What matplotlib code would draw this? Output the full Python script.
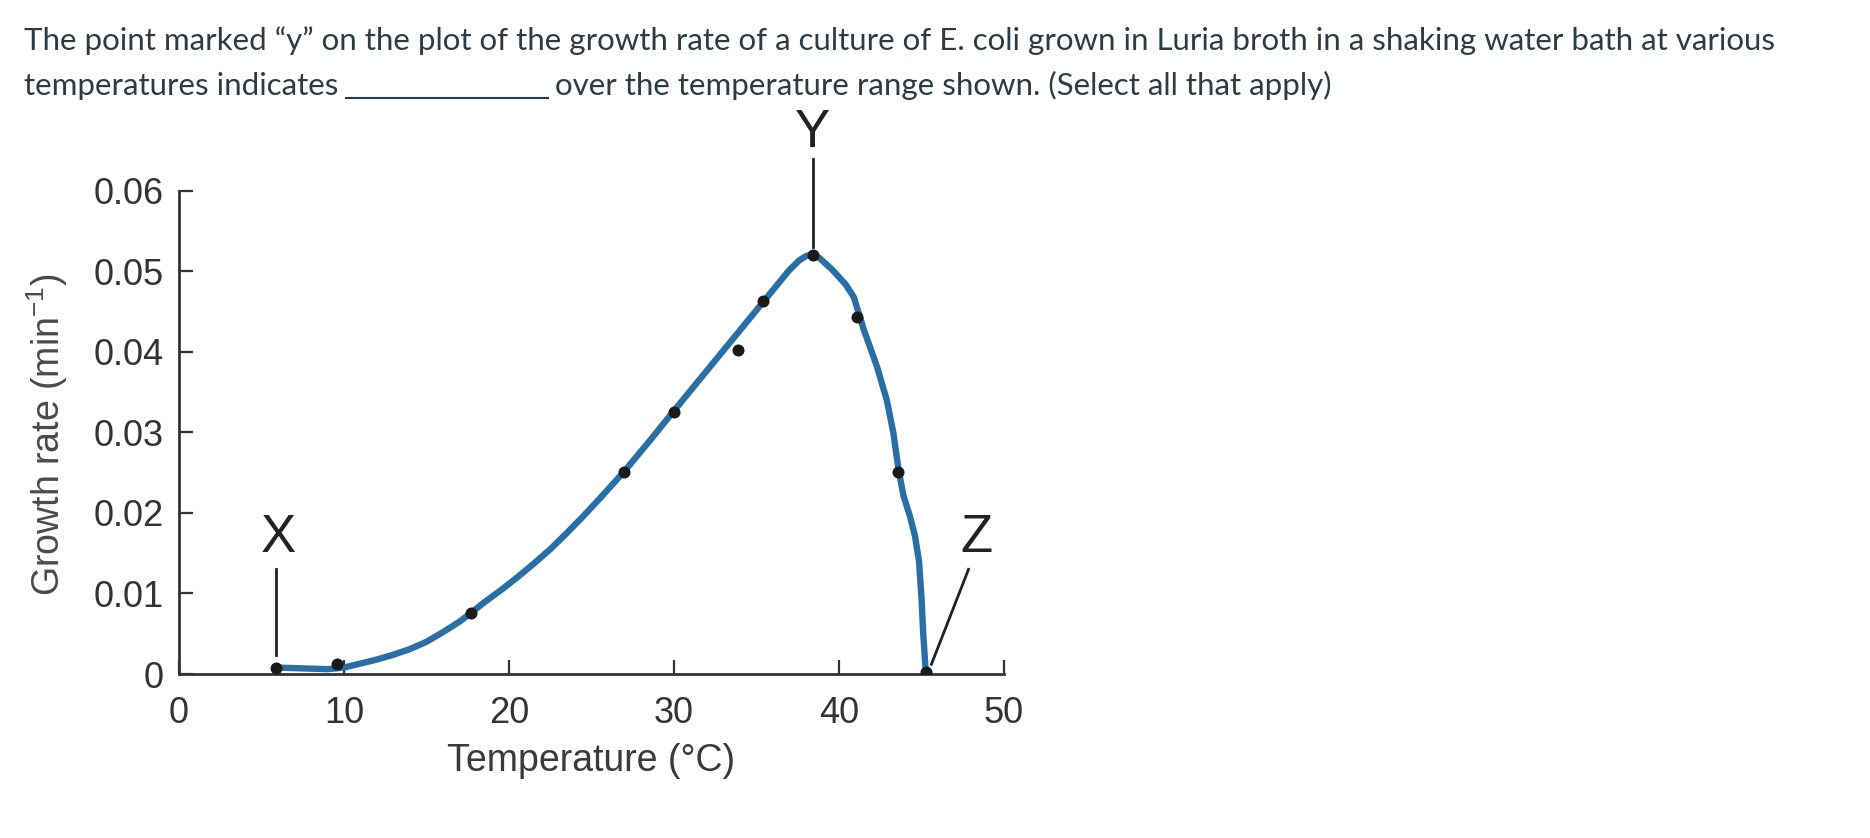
"""
E. coli growth rate vs temperature, with X / Y / Z callouts.
"""

import numpy as np
import matplotlib
matplotlib.use("Agg")
import matplotlib.pyplot as plt
from matplotlib.lines import Line2D

# ---------------------------------------------------------
# DATA
# ---------------------------------------------------------
# measured points (black dots)
TEMPS = [5.9, 9.6, 17.7, 27.0, 30.0, 33.9, 35.4, 38.4, 41.1, 43.6, 45.3]
RATES = [0.0007, 0.0012, 0.0076, 0.0251, 0.0326, 0.0403, 0.0463, 0.0521, 0.0443, 0.0251, 0.0003]

# hand-drawn fitted curve (blue), traced point by point
CURVE_T = [5.9, 7.5, 9.0, 10.0, 11.0, 12.0, 13.0, 14.0, 15.0, 16.0, 17.0, 17.7, 18.5,
           19.5, 20.5, 21.5, 22.5, 23.5, 24.5, 25.5, 26.3, 27.0, 28.5, 30.0, 33.0,
           35.0, 37.0, 37.6, 38.0, 38.4, 38.8, 39.6, 40.4, 40.9, 41.5, 42.3, 42.9,
           43.3, 43.6, 43.9, 44.3, 44.6, 44.85, 45.0, 45.1, 45.25]
CURVE_R = [0.0008, 0.0007, 0.0006, 0.0008, 0.0013, 0.0018, 0.0024, 0.0031, 0.0040, 0.0052,
           0.0065, 0.0076, 0.0089, 0.0104, 0.0120, 0.0137, 0.0155, 0.0175, 0.0196, 0.0218,
           0.0236, 0.0252, 0.0289, 0.0327, 0.0402, 0.0452, 0.0502, 0.0514, 0.0519, 0.0522,
           0.0517, 0.0502, 0.0484, 0.0468, 0.0428, 0.0382, 0.0340, 0.0299, 0.0255, 0.0222,
           0.0196, 0.0172, 0.0140, 0.0095, 0.0052, 0.0005]

X_TICKS = [0, 10, 20, 30, 40, 50]
Y_TICKS = [0, 0.01, 0.02, 0.03, 0.04, 0.05, 0.06]
Y_TICK_LABELS = ["0", "0.01", "0.02", "0.03", "0.04", "0.05", "0.06"]

QUESTION_LINE1 = ("The point marked \u201cy\u201d on the plot of the growth rate of a culture of "
                  "E. coli grown in Luria broth in a shaking water bath at various")
QUESTION_LINE2A = "temperatures indicates"
QUESTION_LINE2B = "over the temperature range shown. (Select all that apply)"

LINE_COLOR = "#2a6ea6"
AXIS_COLOR = "#333333"
TEXT_COLOR = "#2d3b45"
W, H = 1870, 838

# ---------------------------------------------------------
# FIGURE
# ---------------------------------------------------------
plt.rcParams["font.family"] = ["Liberation Sans", "DejaVu Sans"]
plt.rcParams["mathtext.fontset"] = "custom"
plt.rcParams["mathtext.rm"] = "Liberation Sans"
plt.rcParams["mathtext.it"] = "Liberation Sans"

fig = plt.figure(figsize=(W / 100, H / 100), dpi=100)
ax = fig.add_axes([0.0957, 0.1957, 0.4412, 0.5764])

ax.plot(CURVE_T, CURVE_R, color=LINE_COLOR, linewidth=4.6, solid_capstyle="round",
        solid_joinstyle="round", zorder=3)
ax.scatter(TEMPS, RATES, s=75, color="#1a1a1a", zorder=4, linewidths=0)

ax.set_xlim(0, 50)
ax.set_ylim(0, 0.06)
ax.set_xticks(X_TICKS)
ax.set_yticks(Y_TICKS)
ax.set_yticklabels(Y_TICK_LABELS)

for side in ["top", "right"]:
    ax.spines[side].set_visible(False)
for side in ["left", "bottom"]:
    ax.spines[side].set_color(AXIS_COLOR)
    ax.spines[side].set_linewidth(2.0)

ax.tick_params(axis="both", direction="in", length=10, width=1.6, color=AXIS_COLOR,
               labelsize=26, labelcolor="#333333")
ax.tick_params(axis="x", pad=16)
ax.tick_params(axis="y", pad=11)

ax.set_xlabel("Temperature (\u00b0C)", fontsize=27, color="#3a3a3a")
ax.xaxis.set_label_coords(0.5, -0.142)
ax.set_ylabel("Growth rate (min$^{-1}$)", fontsize=27, color="#4a4a4a")
ax.yaxis.set_label_coords(-0.132, 0.495)

# ---------------------------------------------------------
# CALLOUTS X / Y / Z
# ---------------------------------------------------------
i_peak = int(np.argmax(RATES))
x_t, x_r = TEMPS[0], RATES[0]
y_t, y_r = TEMPS[i_peak], RATES[i_peak]
z_t, z_r = TEMPS[-1], RATES[-1]

ax.plot([x_t, x_t], [x_r + 0.0016, 0.0131], color="#222222", linewidth=2.0, clip_on=False)
ax.text(x_t + 0.15, 0.0169, "X", fontsize=38, ha="center", va="center", color="#222222")

ax.plot([y_t, y_t], [y_r + 0.0010, 0.0640], color="#222222", linewidth=2.0, clip_on=False)
ax.text(y_t, 0.0672, "Y", fontsize=38, ha="center", va="center", color="#222222",
        clip_on=False)

ax.plot([z_t + 0.3, 47.85], [z_r + 0.0009, 0.0130], color="#222222", linewidth=2.0,
        clip_on=False)
ax.text(48.3, 0.0169, "Z", fontsize=38, ha="center", va="center", color="#222222")

# ---------------------------------------------------------
# QUESTION TEXT (second line has a drawn blank)
# ---------------------------------------------------------
q_font = dict(fontsize=22.5, family=["Lato", "DejaVu Sans"], color=TEXT_COLOR,
              ha="left", va="baseline")
fig.text(24 / W, 1 - 50 / H, QUESTION_LINE1, **q_font)
t_a = fig.text(24 / W, 1 - 95 / H, QUESTION_LINE2A, **q_font)

renderer = fig.canvas.get_renderer()
bb = t_a.get_window_extent(renderer)
blank_x0 = bb.x1 + 8
blank_x1 = blank_x0 + 202
blank_y = (H - 98) / H
fig.add_artist(Line2D([blank_x0 / W, blank_x1 / W], [blank_y, blank_y],
                      transform=fig.transFigure, color=TEXT_COLOR, linewidth=1.5))
fig.text((blank_x1 + 7) / W, 1 - 95 / H, QUESTION_LINE2B, **q_font)

fig.savefig("out.png", dpi=100)
